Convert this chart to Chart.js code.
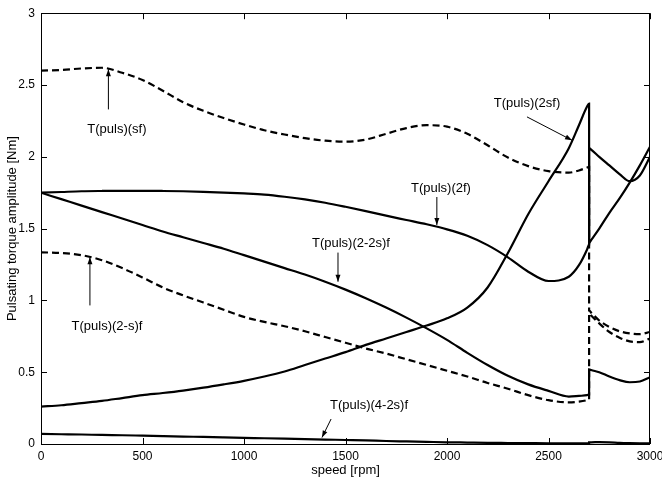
<!DOCTYPE html>
<html>
<head>
<meta charset="utf-8">
<script src="https://cdn.jsdelivr.net/npm/chart.js@4"></script>
<style>
  body { margin: 0; background: #fff; }
  canvas { display: block; }
</style>
</head>
<body>
<canvas id="torqueChart" width="662" height="481"></canvas>
<script>
// speed grid [rpm]; 2700 appears twice for the step at that speed
const speed = [0, 100, 200, 300, 400, 500, 600, 700, 800, 900, 1000, 1100, 1200, 1300, 1400,
  1500, 1600, 1700, 1800, 1900, 2000, 2100, 2200, 2300, 2400, 2500, 2600, 2650, 2690, 2700,
  2700, 2710, 2750, 2800, 2850, 2900, 2950, 3000]

// pulsating torque amplitudes [Nm]
const tSf = [2.60, 2.605, 2.615, 2.62, 2.585, 2.535, 2.46, 2.38, 2.32, 2.27, 2.225, 2.185, 2.155, 2.13, 2.112,
  2.105, 2.12, 2.16, 2.20, 2.22, 2.21, 2.16, 2.08, 1.995, 1.935, 1.90, 1.89, 1.905, 1.925, 1.93,
  0.93, 0.915, 0.86, 0.815, 0.785, 0.77, 0.765, 0.78]
const t2f = [1.75, 1.755, 1.76, 1.762, 1.763, 1.763, 1.762, 1.76, 1.756, 1.751, 1.745, 1.737, 1.722, 1.703, 1.68,
  1.652, 1.622, 1.59, 1.56, 1.53, 1.495, 1.45, 1.385, 1.30, 1.20, 1.135, 1.165, 1.245, 1.355, 1.39,
  2.06, 2.05, 2.00, 1.94, 1.88, 1.83, 1.87, 2.00]
const t2sf = [0.26, 0.27, 0.285, 0.30, 0.32, 0.34, 0.355, 0.372, 0.392, 0.415, 0.44, 0.47, 0.505, 0.55, 0.595,
  0.64, 0.69, 0.735, 0.78, 0.825, 0.875, 0.95, 1.09, 1.33, 1.60, 1.83, 2.06, 2.22, 2.35, 2.37,
  1.40, 1.42, 1.50, 1.61, 1.71, 1.82, 1.94, 2.07]
const t22s = [1.75, 1.705, 1.66, 1.615, 1.57, 1.525, 1.48, 1.44, 1.40, 1.36, 1.315, 1.27, 1.225, 1.18, 1.13,
  1.075, 1.015, 0.95, 0.88, 0.805, 0.725, 0.635, 0.55, 0.475, 0.415, 0.37, 0.33, 0.335, 0.34, 0.345,
  0.52, 0.515, 0.50, 0.47, 0.445, 0.43, 0.435, 0.465]
const t2s = [1.335, 1.33, 1.315, 1.28, 1.225, 1.16, 1.09, 1.035, 0.985, 0.935, 0.885, 0.85, 0.82, 0.785, 0.745,
  0.705, 0.665, 0.63, 0.59, 0.55, 0.51, 0.47, 0.425, 0.385, 0.34, 0.305, 0.29, 0.295, 0.305, 0.31,
  0.91, 0.895, 0.84, 0.78, 0.74, 0.715, 0.71, 0.735]
const t42s = [0.07, 0.068, 0.066, 0.063, 0.061, 0.058, 0.055, 0.052, 0.049, 0.046, 0.043, 0.04, 0.037, 0.034, 0.031,
  0.028, 0.025, 0.021, 0.018, 0.015, 0.012, 0.01, 0.008, 0.007, 0.006, 0.005, 0.005, 0.005, 0.005, 0.005,
  0.012, 0.012, 0.013, 0.012, 0.008, 0.006, 0.005, 0.005]

const xTicks = [0, 500, 1000, 1500, 2000, 2500, 3000]
const yTicks = [0, 0.5, 1, 1.5, 2, 2.5, 3]

// curve labels: text position and arrow (from -> tip), all in rpm / Nm
const notes = [
  { text: 'T(puls)(sf)', at: [374, 2.19], from: [332, 2.33], to: [332, 2.61] },
  { text: 'T(puls)(2-s)f', at: [325, 0.82], from: [241, 0.965], to: [241, 1.30] },
  { text: 'T(puls)(2f)', at: [1970, 1.78], from: [1950, 1.72], to: [1950, 1.525] },
  { text: 'T(puls)(2-2s)f', at: [1527, 1.396], from: [1463, 1.333], to: [1463, 1.13] },
  { text: 'T(puls)(2sf)', at: [2394, 2.375], from: [2394, 2.278], to: [2616, 2.115] },
  { text: 'T(puls)(4-2s)f', at: [1616, 0.27], from: [1429, 0.174], to: [1384, 0.045] },
]

const pts = arr => speed.map((s, i) => ({ x: s, y: arr[i] }))

Chart.defaults.font.family = "'Liberation Sans', Arial, sans-serif"
Chart.defaults.font.size = 12
Chart.defaults.color = '#000'

const solid = { borderColor: '#000', borderWidth: 2.2, pointRadius: 0, cubicInterpolationMode: 'monotone', fill: false }
const dashed = { ...solid, borderDash: [7, 4] }

// matlab style box with inward ticks on all four sides, plus the curve labels
const boxAndNotes = {
  id: 'boxAndNotes',
  afterDraw(chart) {
    const { ctx, chartArea: a, scales: { x, y } } = chart
    ctx.save()
    ctx.strokeStyle = '#000'
    ctx.lineWidth = 1
    ctx.strokeRect(Math.round(a.left) + 0.5, Math.round(a.top) + 0.5,
      Math.round(a.width) - 1, Math.round(a.height))
    ctx.beginPath()
    xTicks.forEach(v => {
      const px = Math.round(x.getPixelForValue(v)) + 0.5
      ctx.moveTo(px, a.bottom); ctx.lineTo(px, a.bottom - 6)
      ctx.moveTo(px, a.top); ctx.lineTo(px, a.top + 6)
    })
    yTicks.forEach(v => {
      const py = Math.round(y.getPixelForValue(v)) + 0.5
      ctx.moveTo(a.left, py); ctx.lineTo(a.left + 6, py)
      ctx.moveTo(a.right, py); ctx.lineTo(a.right - 6, py)
    })
    ctx.stroke()

    ctx.font = "13px 'Liberation Sans', Arial, sans-serif"
    ctx.fillStyle = '#000'
    ctx.textAlign = 'center'
    ctx.textBaseline = 'middle'
    notes.forEach(n => {
      ctx.fillText(n.text, x.getPixelForValue(n.at[0]), y.getPixelForValue(n.at[1]))
      const x0 = x.getPixelForValue(n.from[0]), y0 = y.getPixelForValue(n.from[1])
      const x1 = x.getPixelForValue(n.to[0]), y1 = y.getPixelForValue(n.to[1])
      const ang = Math.atan2(y1 - y0, x1 - x0)
      ctx.beginPath()
      ctx.moveTo(x0, y0); ctx.lineTo(x1, y1)
      ctx.stroke()
      ctx.beginPath()
      ctx.moveTo(x1, y1)
      ctx.lineTo(x1 - 7 * Math.cos(ang) + 2.5 * Math.sin(ang), y1 - 7 * Math.sin(ang) - 2.5 * Math.cos(ang))
      ctx.lineTo(x1 - 7 * Math.cos(ang) - 2.5 * Math.sin(ang), y1 - 7 * Math.sin(ang) + 2.5 * Math.cos(ang))
      ctx.closePath()
      ctx.fill()
    })
    ctx.restore()
  }
}

const ctx = document.getElementById('torqueChart')
const torqueChart = new Chart(ctx, {
  type: 'line',
  data: {
    datasets: [
      { label: 'T(puls)(sf)', data: pts(tSf), ...dashed },
      { label: 'T(puls)(2-s)f', data: pts(t2s), ...dashed },
      { label: 'T(puls)(2f)', data: pts(t2f), ...solid },
      { label: 'T(puls)(2sf)', data: pts(t2sf), ...solid },
      { label: 'T(puls)(2-2s)f', data: pts(t22s), ...solid },
      { label: 'T(puls)(4-2s)f', data: pts(t42s), ...solid },
    ]
  },
  options: {
    responsive: false,
    animation: false,
    devicePixelRatio: 1,
    layout: { padding: { left: 0, top: 12, right: 12, bottom: 0 } },
    plugins: {
      legend: { display: false },
      tooltip: { enabled: false },
    },
    scales: {
      x: {
        type: 'linear',
        min: 0,
        max: 3000,
        afterBuildTicks: s => { s.ticks = xTicks.map(v => ({ value: v })) },
        afterFit: s => { s.height = 37; s.paddingRight = 0; s.paddingLeft = 0 },
        ticks: { padding: 5, maxRotation: 0, autoSkip: false, callback: v => String(v) },
        grid: { display: false, drawTicks: false },
        border: { display: false },
        title: { display: true, text: 'speed [rpm]', font: { size: 13 }, padding: { top: 0, bottom: 3 } },
      },
      y: {
        min: 0,
        max: 3,
        afterBuildTicks: s => { s.ticks = yTicks.map(v => ({ value: v })) },
        afterFit: s => { s.width = 41 },
        ticks: { padding: 6, autoSkip: false, callback: v => String(v) },
        grid: { display: false, drawTicks: false },
        border: { display: false },
        title: { display: true, text: 'Pulsating torque amplitude [Nm]', font: { size: 13 }, padding: { top: 5, bottom: 0 } },
      }
    }
  },
  plugins: [boxAndNotes],
})
</script>
</body>
</html>
